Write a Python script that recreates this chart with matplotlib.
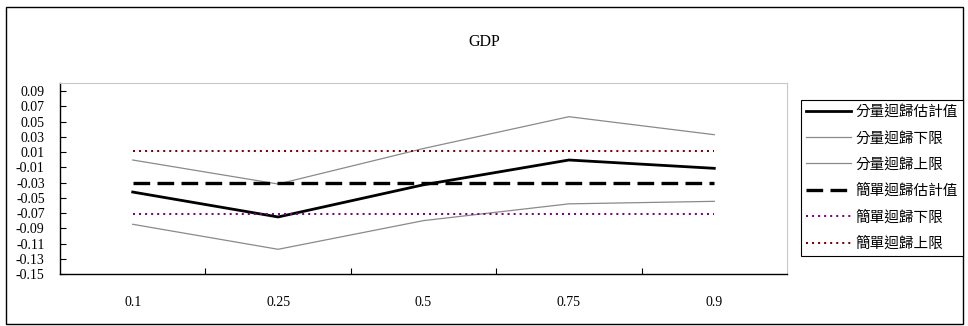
import matplotlib.pyplot as plt
from matplotlib.patches import Rectangle
from matplotlib.ticker import FixedLocator
import numpy as np

quantiles = ['0.1', '0.25', '0.5', '0.75', '0.9']
qr_est = [-0.0425, -0.0752, -0.0330, -0.0005, -0.0114]
qr_low = [-0.0848, -0.1176, -0.0800, -0.0580, -0.0547]
qr_up = [-0.0005, -0.0320, 0.0146, 0.0563, 0.0327]
ols_est = [-0.0307] * 5
ols_low = [-0.0710] * 5
ols_up = [0.0113] * 5

labels = ['分量迴歸估計值', '分量迴歸下限', '分量迴歸上限',
          '簡單迴歸估計值', '簡單迴歸下限', '簡單迴歸上限']

serif = ['Liberation Serif', 'DejaVu Serif']
cjk = ['Noto Sans CJK TC', 'DejaVu Sans']

fig = plt.figure(figsize=(9.68, 3.26), dpi=100)
W, H = 968, 326

# outer chart border
fig.patches.append(Rectangle((6 / W, 1 - 324 / H), 957 / W, 317 / H,
                             transform=fig.transFigure, fill=False,
                             edgecolor='black', linewidth=1.0))

ax = fig.add_axes([60 / W, 1 - 274 / H, 727 / W, 191 / H])
x = np.arange(len(quantiles))

ax.plot(x, qr_est, color='black', lw=2.0, label=labels[0])
ax.plot(x, qr_low, color='#8a8a8a', lw=0.9, label=labels[1])
ax.plot(x, qr_up, color='#8a8a8a', lw=0.9, label=labels[2])
ax.plot(x, ols_est, color='black', lw=2.4, dashes=(5, 2.2), label=labels[3])
ax.plot(x, ols_low, color='#800080', lw=1.45, dashes=(1, 2), label=labels[4])
ax.plot(x, ols_up, color='#800000', lw=1.45, dashes=(1, 2), label=labels[5])

ax.set_xlim(-0.5, len(quantiles) - 0.5)
ax.set_ylim(-0.15, 0.1005)
yt = np.round(np.arange(-0.15, 0.0901, 0.02), 2)
ax.set_yticks(yt)
ax.set_yticklabels([f'{v:.2f}' for v in yt], family=serif, fontsize=10)
ax.set_xticks(x)
ax.set_xticklabels(quantiles, family=serif, fontsize=10)
ax.xaxis.set_minor_locator(FixedLocator(np.arange(0.5, len(quantiles) - 0.5, 1)))
ax.tick_params(axis='x', which='major', length=0, pad=16)
ax.tick_params(axis='x', which='minor', direction='in', length=4, width=0.8)
ax.tick_params(axis='y', direction='in', length=4, width=0.8, pad=11)

for s in ['left', 'bottom']:
    ax.spines[s].set_color('black')
    ax.spines[s].set_linewidth(1.0)
for s in ['top', 'right']:
    ax.spines[s].set_color('#c8c8c8')
    ax.spines[s].set_linewidth(0.8)

fig.text(0.5, 1 - 42 / H, 'GDP', ha='center', va='center',
         family=serif, fontsize=11.5)

leg = fig.legend(loc='upper left', bbox_to_anchor=(801 / W, 1 - 100 / H),
                 bbox_transform=fig.transFigure,
                 prop={'family': cjk, 'size': 10.5},
                 frameon=True, fancybox=False, edgecolor='black', framealpha=1,
                 handlelength=3.1, handletextpad=0.3, labelspacing=0.83,
                 borderpad=0.35, borderaxespad=0)
leg.get_frame().set_linewidth(0.8)

fig.savefig('out.png', dpi=100)
